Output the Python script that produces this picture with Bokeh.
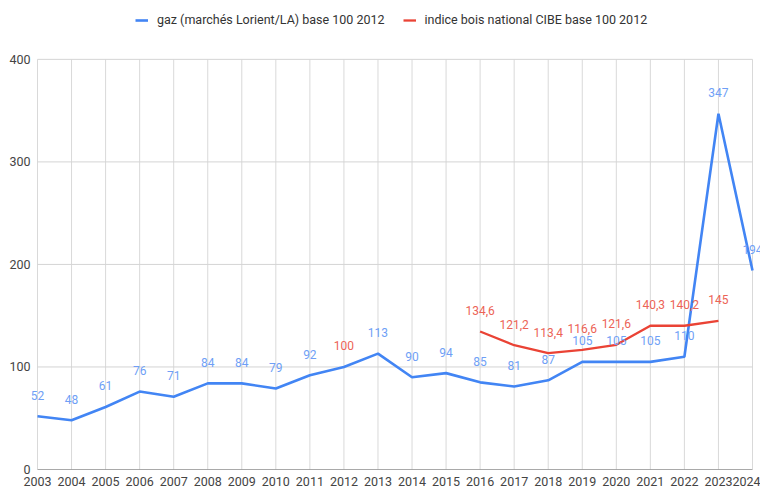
from bokeh.plotting import figure
from bokeh.models import (Range1d, FixedTicker, ColumnDataSource, LabelSet, Legend, LegendItem)
from bokeh.core.properties import value
from bokeh.embed import file_html
from bokeh.resources import INLINE

years = list(range(2003, 2025))
gaz = [52, 48, 61, 76, 71, 84, 84, 79, 92, 100, 113, 90, 94, 85, 81, 87, 105, 105, 105, 110, 347, 194]
bois_years = [2012, 2016, 2017, 2018, 2019, 2020, 2021, 2022, 2023]
bois = [100, 134.6, 121.2, 113.4, 116.6, 121.6, 140.3, 140.2, 145]
y_ticks = [0, 100, 200, 300, 400]
gaz_name = "gaz (marchés Lorient/LA) base 100 2012"
bois_name = "indice bois national CIBE base 100 2012"

BLUE = "#4285f4"
RED = "#ea4335"
FONT = "Roboto"

W, H = 760, 488
FL, FB = 31, 18            # frame left border, bottom border
X0_PX, X1_PX = 37, 752     # where first / last year sit on the page
Y0_PX, Y1_PX = 470, 59     # where 0 / 400 sit on the page
xs = (X1_PX - X0_PX) / (years[-1] - years[0])
ys = (Y0_PX - Y1_PX) / (y_ticks[-1] - y_ticks[0])
x_start = years[0] - (X0_PX - FL) / xs
x_end = years[-1] + (W - X1_PX) / xs
y_end = y_ticks[-1] + Y1_PX / ys

p = figure(width=W, height=H, output_backend="svg", toolbar_location=None,
           x_range=Range1d(x_start, x_end), y_range=Range1d(y_ticks[0], y_end),
           min_border_left=FL, min_border_right=0, min_border_bottom=FB, min_border_top=0)
p.outline_line_color = None
p.xgrid.visible = False
p.ygrid.visible = False

# axes (labels only)
p.xaxis.ticker = FixedTicker(ticks=years)
p.yaxis.ticker = FixedTicker(ticks=y_ticks)
for ax in (p.xaxis, p.yaxis):
    ax.major_tick_out = 0
    ax.major_tick_in = 0
    ax.minor_tick_out = 0
    ax.minor_tick_in = 0
    ax.axis_line_color = None
    ax.major_label_text_font = FONT
    ax.major_label_text_font_size = "12.5px"
    ax.major_label_text_color = "#444444"
p.xaxis.major_label_standoff = 7
p.yaxis.major_label_standoff = 1

# grid lines limited to the plotting area
p.segment(x0=years, y0=[y_ticks[0]] * len(years), x1=years, y1=[y_ticks[-1]] * len(years),
          line_color="#d9d9d9", line_width=1)
p.segment(x0=[years[0]] * len(y_ticks), y0=y_ticks, x1=[years[-1]] * len(y_ticks), y1=y_ticks,
          line_color=["#555555"] + ["#d4d4d4"] * (len(y_ticks) - 1), line_width=1)

# wood series on full year axis (NaN for missing)
bois_full = [float("nan")] * len(years)
for y, v in zip(bois_years, bois):
    bois_full[years.index(y)] = v

r_gaz = p.line(years, gaz, line_color=BLUE, line_width=2.6)
r_bois = p.line(years, bois_full, line_color=RED, line_width=2.3)

# data labels
gl = [(y, v, str(v)) for y, v in zip(years, gaz) if y != 2012]
src_g = ColumnDataSource(dict(x=[a[0] for a in gl], y=[a[1] for a in gl], t=[a[2] for a in gl]))
p.add_layout(LabelSet(x="x", y="y", text="t", source=src_g, y_offset=21,
                      text_align="center", text_baseline="middle",
                      text_font=value(FONT), text_font_size=value("12px"), text_color="#6f9ff6"))

def fmt(v):
    return str(int(v)) if float(v).is_integer() else str(v).replace(".", ",")

src_b = ColumnDataSource(dict(x=bois_years, y=bois, t=[fmt(v) for v in bois]))
p.add_layout(LabelSet(x="x", y="y", text="t", source=src_b, y_offset=21,
                      text_align="center", text_baseline="middle",
                      text_font=value(FONT), text_font_size=value("12px"), text_color="#ec6356"))

legend = Legend(items=[LegendItem(label=gaz_name, renderers=[r_gaz]),
                       LegendItem(label=bois_name, renderers=[r_bois])],
                orientation="horizontal", location=(135 - FL, H - FB - 28),
                padding=0, margin=0, spacing=18, label_standoff=9,
                glyph_width=13, glyph_height=14, label_height=14,
                label_text_font=FONT, label_text_font_size="12.5px",
                label_text_color="#333333", border_line_color=None,
                background_fill_alpha=0)
p.add_layout(legend)

open("out.html", "w").write(file_html(p, INLINE))
